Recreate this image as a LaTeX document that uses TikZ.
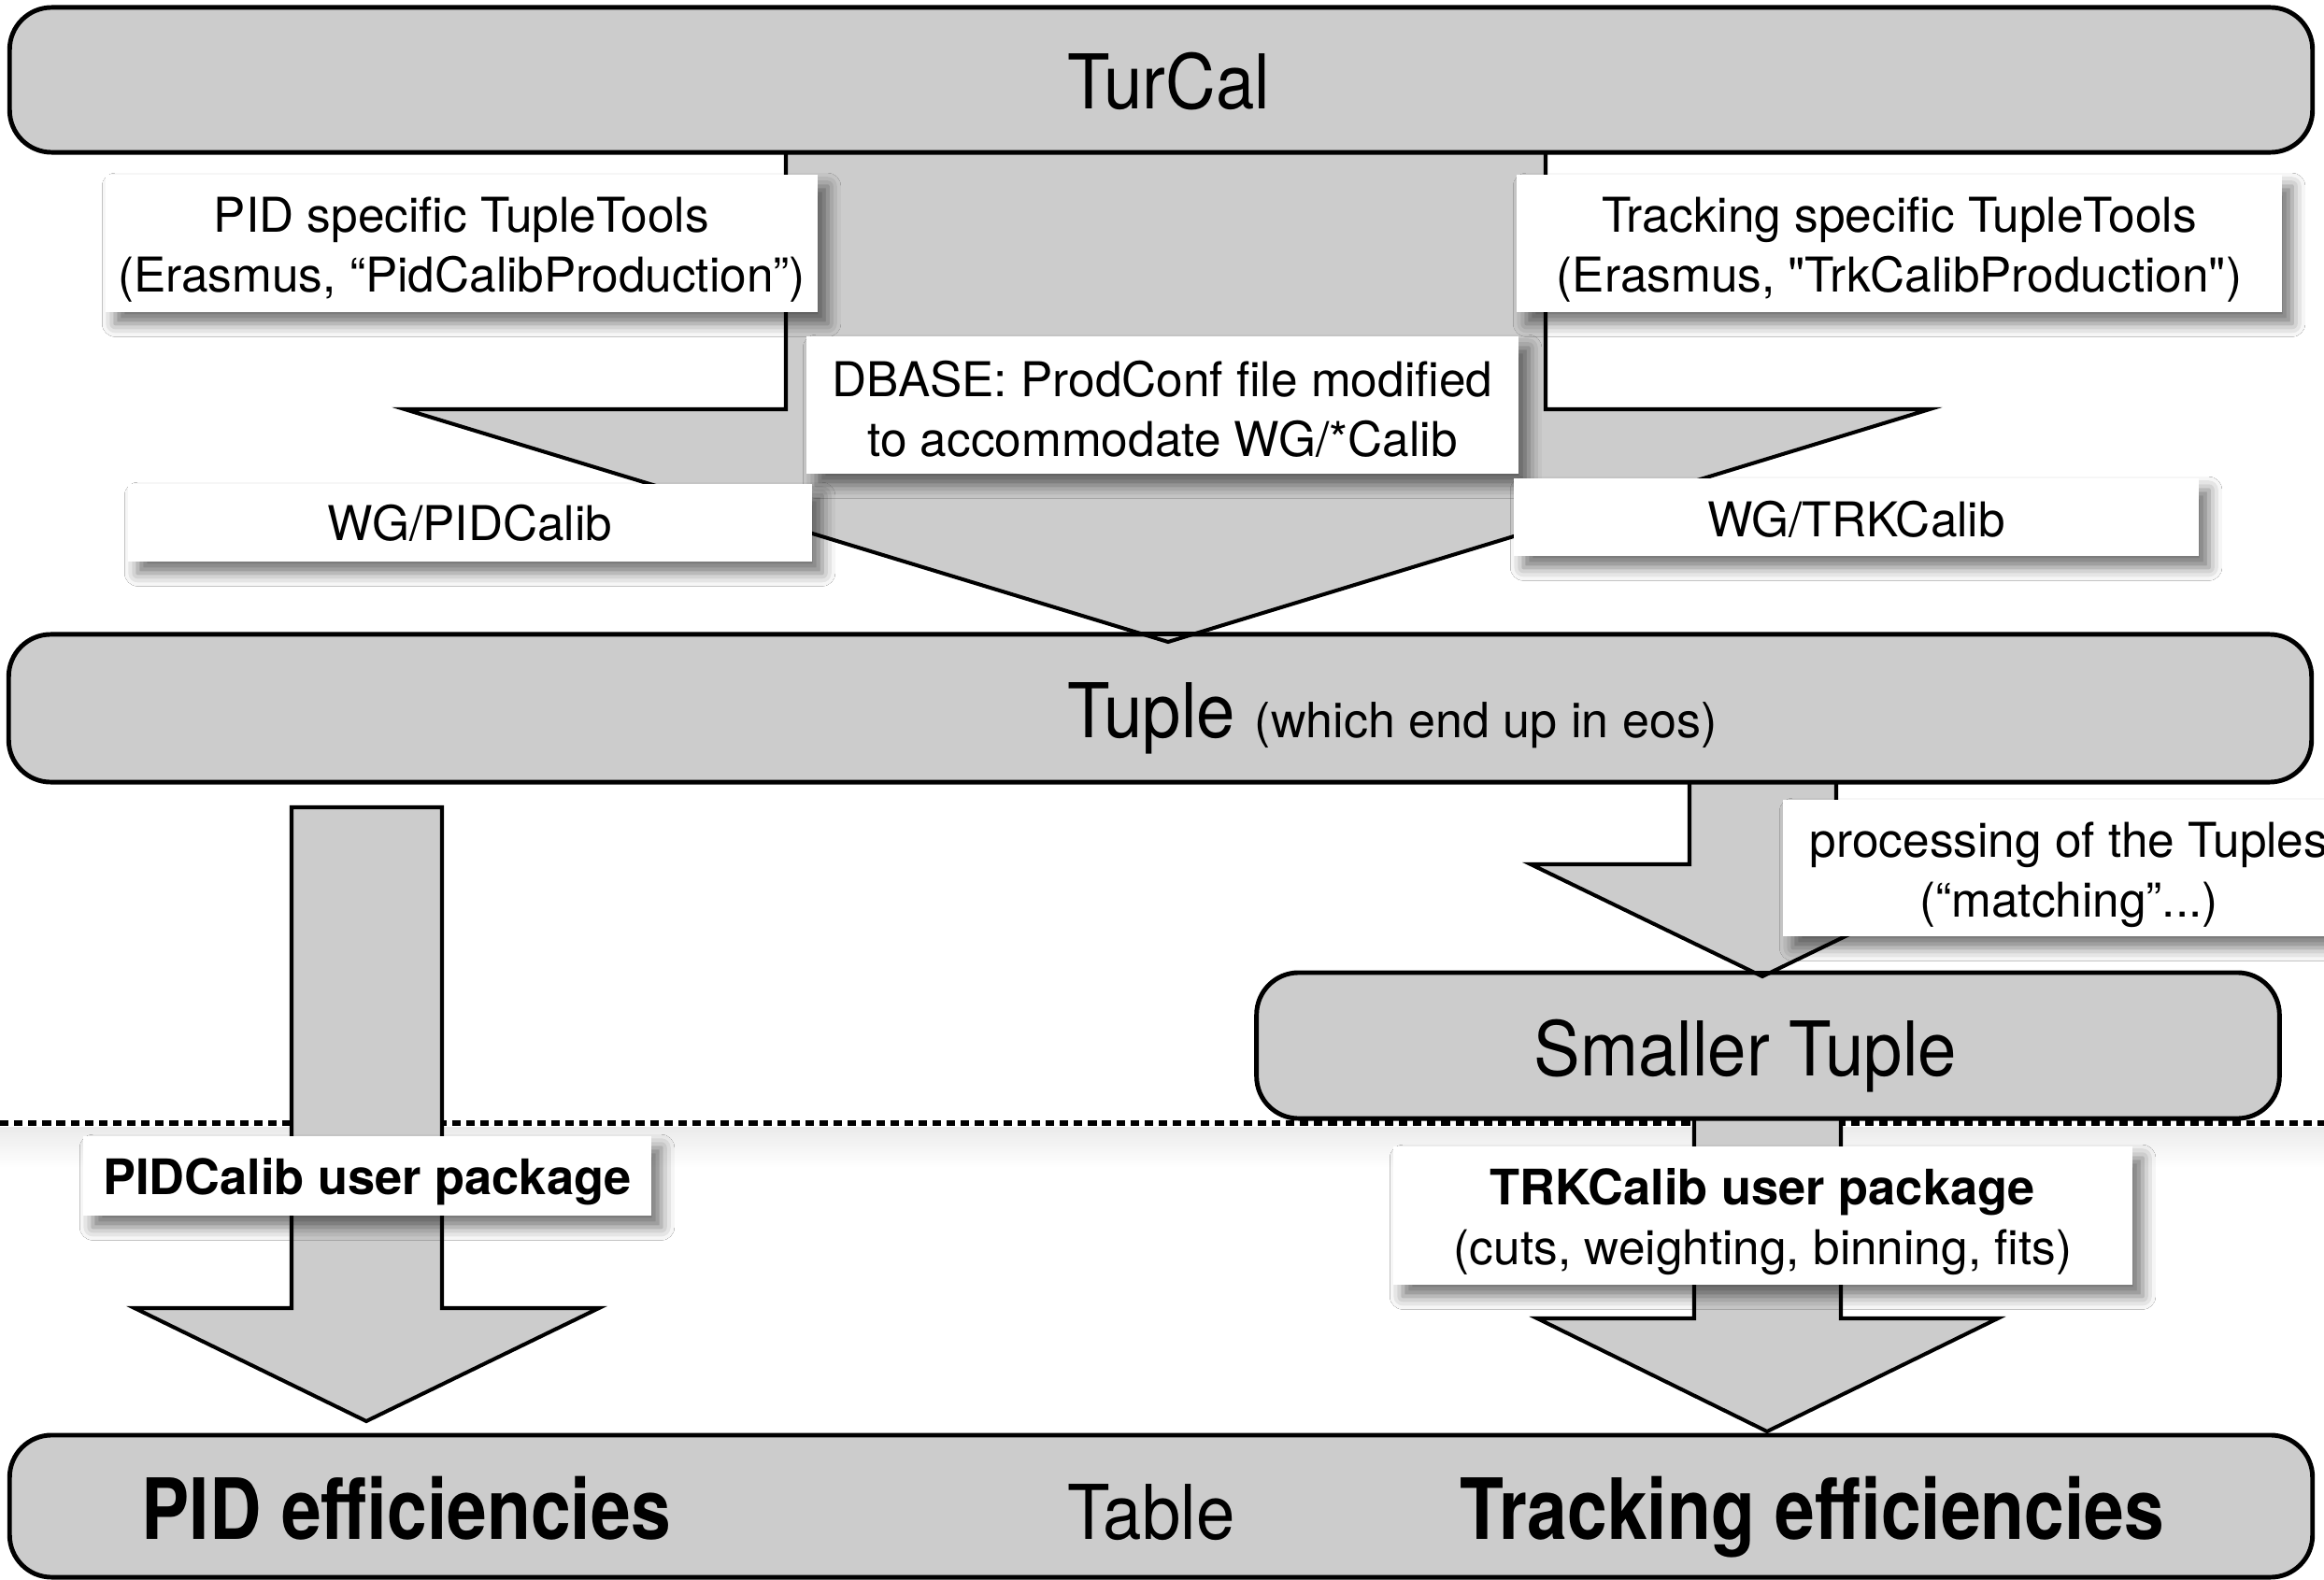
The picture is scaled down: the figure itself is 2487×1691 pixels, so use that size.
\documentclass[tikz,border=0pt]{standalone}
\usepackage{fontspec}
\setmainfont{TeX Gyre Heros}[Ligatures=TeXOff]
\newfontfamily\bigfam[FakeStretch=0.92]{TeX Gyre Heros}
\newfontfamily\botfam[FakeStretch=0.85]{TeX Gyre Heros}
\usetikzlibrary{shadows.blur}
\definecolor{boxgrey}{RGB}{204,204,204}
\newcommand\fbig{\bigfam\fontsize{23}{27}\selectfont}
\newcommand\fmed{\normalfont\fontsize{14.6}{18.2}\selectfont}
\newcommand\fmedb{\bfseries\fontsize{14.9}{18.2}\selectfont}
\newcommand\fsml{\normalfont\fontsize{14.8}{17.7}\selectfont}
\newcommand\fbot{\botfam\bfseries\fontsize{25.7}{30}\selectfont}
\tikzset{
  greybox/.style={draw=black, line width=1.4pt, fill=boxgrey, rounded corners=0.45cm, inner sep=0pt, outer sep=0pt},
  blk/.style={draw=black, line width=1.15pt, fill=boxgrey, line join=miter},
  lbl/.style={fill=white, inner sep=0pt,
    blur shadow={shadow xshift=3pt, shadow yshift=-3.5pt, shadow blur radius=4pt, shadow opacity=55}},
  lbltxt/.style={inner sep=0pt, align=center, font=\fmed},
  txt/.style={inner sep=0pt}
}
\begin{document}
\begin{tikzpicture}[x=0.01cm,y=-0.01cm]
\useasboundingbox (0,0) rectangle (2487,1691);
\clip (0,0) rectangle (2487,1691);
\fill[white] (0,0) rectangle (2487,1691);
% faint shadow of the dotted line
\shade[top color=black!8, bottom color=white] (0,1206) rectangle (2487,1250);
% dotted separator
\coordinate (dl) at (0,1202);
\coordinate (dr) at (2487,1202);
\draw[line width=1.5pt, dash pattern=on 2.6pt off 1.7pt] (dl) -- (dr);
% lower arrows and boxes
\draw[blk] (312,864) -- (312,1400) -- (144,1400) -- (392,1521) -- (641,1400) -- (473,1400) -- (473,864) -- cycle;
\draw[blk] (1813,1150) -- (1813,1411) -- (1645,1411) -- (1891,1532) -- (2138,1411) -- (1970,1411) -- (1970,1150) -- cycle;
\node[greybox, minimum width=24.63cm, minimum height=1.52cm] (bottom) at (1242.5,1612) {};
\node[greybox, minimum width=10.94cm, minimum height=1.56cm] (small) at (1892,1119) {};
\draw[blk] (1808,800) -- (1808,925) -- (1638,925) -- (1886,1045) -- (2134,925) -- (1965,925) -- (1965,800) -- cycle;
\node[greybox, minimum width=24.63cm, minimum height=1.58cm] (tuple) at (1241.5,758) {};
\draw[blk] (841,120) -- (841,438) -- (433,438) -- (1250,687) -- (2065,438) -- (1654,438) -- (1654,120) -- cycle;
\node[greybox, minimum width=24.63cm, minimum height=1.55cm] (turcal) at (1242.5,85.5) {};
% box borders showing through the arrow tips
\draw[line width=1.4pt] ([xshift=-0.4cm]tuple.north -| 1250,0) -- ([xshift=0.4cm]tuple.north -| 1250,0);
\draw[line width=1.4pt] ([xshift=-0.3cm]small.north -| 1886,0) -- ([xshift=0.3cm]small.north -| 1886,0);
% white labels
\node[lbl, minimum width=7.62cm, minimum height=1.47cm] (pidtt) at (494,260.5) {};
\node[lbl, minimum width=8.19cm, minimum height=1.47cm] (trktt) at (2032.5,260.5) {};
\node[lbl, minimum width=7.62cm, minimum height=1.47cm] (dbase) at (1244,433.5) {};
\node[lbl, minimum width=7.32cm, minimum height=0.83cm] (wgpid) at (503,559.5) {};
\node[lbl, minimum width=7.33cm, minimum height=0.83cm] (wgtrk) at (1986.5,553.5) {};
\node[lbl, minimum width=6.12cm, minimum height=1.46cm] (proc) at (2214,929) {};
\node[lbl, minimum width=6.08cm, minimum height=0.85cm] (pidpkg) at (393,1258.5) {};
\node[lbl, minimum width=7.91cm, minimum height=1.48cm] (trkpkg) at (1886.5,1301) {};
\node[lbltxt] (pidtttxt) at ([yshift=-2pt]pidtt.center) {PID specific TupleTools\\(Erasmus, “PidCalibProduction”)};
\node[lbltxt] (trktttxt) at ([yshift=-2pt]trktt.center) {Tracking specific TupleTools\\(Erasmus, "TrkCalibProduction")};
\node[lbltxt] (dbasetxt) at ([yshift=-1.2pt]dbase.center) {DBASE: ProdConf file modified\\to accommodate WG/*Calib};
\node[lbltxt] (wgpidtxt) at (wgpid.center) {WG/PIDCalib};
\node[lbltxt] (wgtrktxt) at ([yshift=-0.6pt]wgtrk.center) {WG/TRKCalib};
\node[lbltxt] (proctxt) at ([yshift=-2pt]proc.center) {processing of the Tuples\\(“matching”...)};
\node[lbltxt] (pidpkgtxt) at ([yshift=-1.7pt]pidpkg.center) {\fmedb PIDCalib user package};
\node[lbltxt] (trkpkgtxt) at ([yshift=-2pt]trkpkg.center) {{\fmedb TRKCalib user package}\\(cuts, weighting, binning, fits)};
% texts in grey boxes
\node[txt, anchor=base, font=\fbig] (turcaltxt) at (1251,117) {TurCal};
\node[txt, anchor=base west] (tupletxt) at (1142,789) {\fbig Tuple \fsml(which end up in eos)};
\node[txt, anchor=base, font=\fbig] (smalltxt) at (1868,1151) {Smaller Tuple};
\node[txt, anchor=base west, font=\fbot] (pideff) at (151,1647) {PID efficiencies};
\node[txt, anchor=base west, font=\fbig] (table) at (1142,1647) {Table};
\node[txt, anchor=base west, font=\fbot] (trkeff) at (1562,1647) {Tracking efficiencies};
\end{tikzpicture}
\end{document}
